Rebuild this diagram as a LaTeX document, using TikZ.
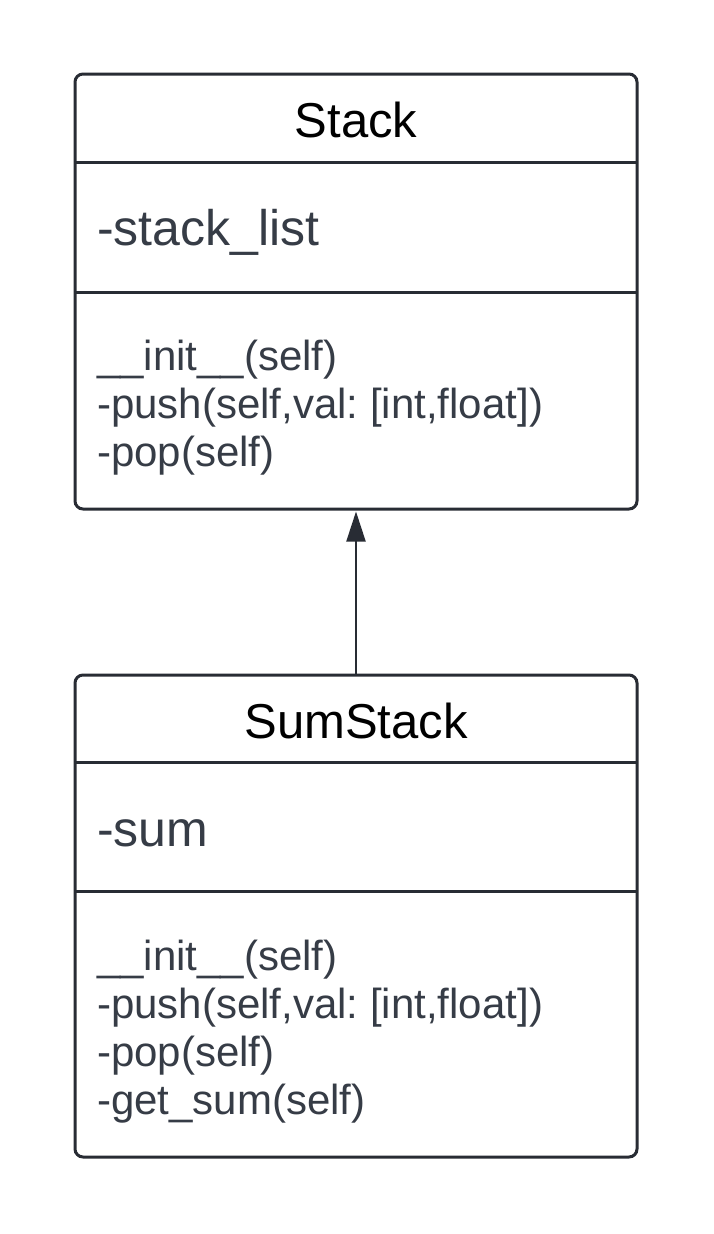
\documentclass[tikz,border=0pt]{standalone}
\usepackage{fontspec}
\setmainfont{Liberation Sans}
\usetikzlibrary{arrows.meta}
\definecolor{border}{RGB}{40,44,52}
\definecolor{txt}{RGB}{54,60,70}
\frenchspacing
\begin{document}
\begin{tikzpicture}[x=1pt,y=-1pt,
  classbox/.style={draw=border,line width=3pt,rounded corners=8pt,fill=white,
    outer sep=0pt,inner sep=0pt,minimum width=562pt,anchor=north west},
  sepline/.style={draw=border,line width=3pt},
  titletext/.style={inner sep=0pt,anchor=base,font=\fontsize{49}{58}\selectfont,text=black},
  attrtext/.style={inner sep=0pt,anchor=base west,font=\fontsize{50}{58}\selectfont,text=txt},
  methtext/.style={inner sep=0pt,anchor=base west,font=\fontsize{42}{48}\selectfont,text=txt},
  inherit/.style={draw=border,line width=2pt,shorten >=2.5pt,
    -{Triangle[length=30pt,width=19pt]}}]
\useasboundingbox[fill=white] (0,0) rectangle (713,1234);

% Stack class
\node[classbox,minimum height=435pt] (stack) at (75,74) {};
\draw[sepline] (75,162) -- (637,162);
\draw[sepline] (75,292) -- (637,292);
\node[titletext] (stacktitle) at (356,137) {Stack};
\node[attrtext] (stackattr) at (97,245) {-stack\_list};
\node[methtext] (stackm1) at (97,370) {\_\_init\_\_(self)};
\node[methtext] (stackm2) at (97,418) {-push(self,val: [int,float])};
\node[methtext] (stackm3) at (97,466) {-pop(self)};

% SumStack class
\node[classbox,minimum height=482pt] (sumstack) at (75,675) {};
\draw[sepline] (75,762) -- (637,762);
\draw[sepline] (75,891) -- (637,891);
\node[titletext] (sumtitle) at (356,738) {SumStack};
\node[attrtext] (sumattr) at (97,846) {-sum};
\node[methtext] (summ1) at (97,970) {\_\_init\_\_(self)};
\node[methtext] (summ2) at (97,1018) {-push(self,val: [int,float])};
\node[methtext] (summ3) at (97,1066) {-pop(self)};
\node[methtext] (summ4) at (97,1114) {-get\_sum(self)};

% inheritance
\draw[inherit] (sumstack.north) -- (stack.south);
\end{tikzpicture}
\end{document}
